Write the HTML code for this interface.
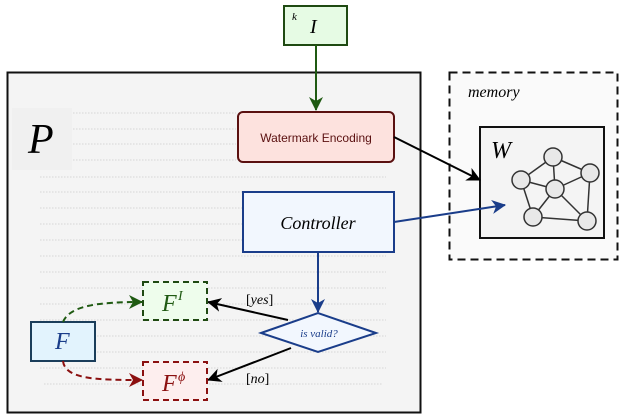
<!DOCTYPE html>
<html><head><meta charset="utf-8"><style>
html,body{margin:0;padding:0;background:#fff;}
svg{display:block;}
text{font-family:"Liberation Serif",serif;font-style:italic;}
</style></head><body>
<svg width="624" height="420" viewBox="0 0 624 420" xmlns="http://www.w3.org/2000/svg">
<defs>
<marker id="ak" markerWidth="14" markerHeight="14" refX="13" refY="7" orient="auto" markerUnits="userSpaceOnUse"><path d="M0,0 L14,7 L0,14 L4,7 z" fill="#000"/></marker>
<marker id="ab" markerWidth="14" markerHeight="14" refX="13" refY="7" orient="auto" markerUnits="userSpaceOnUse"><path d="M0,0 L14,7 L0,14 L4,7 z" fill="#1a3d8a"/></marker>
<marker id="ag" markerWidth="14" markerHeight="14" refX="13" refY="7" orient="auto" markerUnits="userSpaceOnUse"><path d="M0,0 L14,7 L0,14 L4,7 z" fill="#1f5a12"/></marker>
<marker id="ar" markerWidth="14" markerHeight="14" refX="13" refY="7" orient="auto" markerUnits="userSpaceOnUse"><path d="M0,0 L14,7 L0,14 L4,7 z" fill="#8b1010"/></marker>
</defs>
<rect x="7.5" y="72.5" width="413" height="340" fill="#f4f4f4" stroke="#111" stroke-width="2"/>
<rect x="12" y="108" width="60" height="62" fill="#f0f0f0"/>
<g stroke="#d6d6d6" stroke-width="1" stroke-dasharray="1.5,1.5">
<line x1="73" y1="113" x2="236" y2="113"/><line x1="73" y1="129" x2="236" y2="129"/>
<line x1="73" y1="144" x2="236" y2="144"/><line x1="73" y1="160" x2="236" y2="160"/>
<line x1="40" y1="177" x2="386" y2="177"/>
<line x1="40" y1="192" x2="243" y2="192"/><line x1="40" y1="208" x2="243" y2="208"/>
<line x1="40" y1="224" x2="243" y2="224"/><line x1="40" y1="240" x2="243" y2="240"/>
<line x1="40" y1="256" x2="386" y2="256"/><line x1="40" y1="272" x2="386" y2="272"/>
<line x1="40" y1="288" x2="386" y2="288"/><line x1="40" y1="304" x2="386" y2="304"/>
<line x1="40" y1="320" x2="386" y2="320"/><line x1="40" y1="336" x2="386" y2="336"/>
<line x1="40" y1="352" x2="386" y2="352"/><line x1="40" y1="368" x2="386" y2="368"/>
<line x1="44" y1="384" x2="382" y2="384"/>
</g>
<text x="28" y="153" font-size="42">P</text>
<rect x="449.5" y="72.5" width="168" height="187" fill="#fafafa" stroke="#111" stroke-width="2" stroke-dasharray="8,5"/>
<text x="468" y="97" font-size="16">memory</text>
<rect x="480" y="127" width="124" height="111" fill="#f4f4f4" stroke="#111" stroke-width="2"/>
<text x="491" y="158" font-size="24">W</text>
<g stroke="#333" stroke-width="1.5">
<line x1="553" y1="157" x2="521" y2="180"/><line x1="553" y1="157" x2="590" y2="173"/><line x1="553" y1="157" x2="555" y2="189"/>
<line x1="521" y1="180" x2="555" y2="189"/><line x1="521" y1="180" x2="533" y2="217"/>
<line x1="555" y1="189" x2="590" y2="173"/><line x1="555" y1="189" x2="533" y2="217"/><line x1="555" y1="189" x2="587" y2="221"/>
<line x1="590" y1="173" x2="587" y2="221"/><line x1="533" y1="217" x2="587" y2="221"/>
</g>
<g fill="#e8e8e8" stroke="#333" stroke-width="1.5">
<circle cx="553" cy="157" r="9"/><circle cx="521" cy="180" r="9"/><circle cx="555" cy="189" r="9"/>
<circle cx="590" cy="173" r="9"/><circle cx="533" cy="217" r="9"/><circle cx="587" cy="221" r="9"/>
</g>
<rect x="284" y="6" width="63" height="39" fill="#e6fbe4" stroke="#1f4a12" stroke-width="2"/>
<text x="292" y="20" font-size="11">k</text>
<text x="310" y="33" font-size="20">I</text>
<line x1="316" y1="45" x2="316" y2="110" stroke="#1f5a12" stroke-width="2" marker-end="url(#ag)"/>
<rect x="238" y="112" width="156" height="50" rx="5" fill="#fde2de" stroke="#5a1010" stroke-width="2"/>
<text x="316" y="142" font-size="12" text-anchor="middle" style="font-family:'Liberation Sans',sans-serif;font-style:normal" fill="#5a1010">Watermark Encoding</text>
<line x1="394" y1="137" x2="480" y2="180" stroke="#000" stroke-width="2" marker-end="url(#ak)"/>
<rect x="243" y="192" width="151" height="60" fill="#f2f7fe" stroke="#1a3d8a" stroke-width="2"/>
<text x="318" y="229" font-size="18" text-anchor="middle">Controller</text>
<line x1="394" y1="222" x2="505" y2="205" stroke="#1a3d8a" stroke-width="2" marker-end="url(#ab)"/>
<line x1="318" y1="252" x2="318" y2="312" stroke="#1a3d8a" stroke-width="2" marker-end="url(#ab)"/>
<polygon points="261,333 318,313 376,333 318,352" fill="#f2f7fe" stroke="#1a3d8a" stroke-width="2"/>
<text x="319" y="337" font-size="11" text-anchor="middle" fill="#1a3d8a">is valid?</text>
<line x1="288" y1="320" x2="208" y2="302" stroke="#000" stroke-width="2" marker-end="url(#ak)"/>
<text x="246" y="304" font-size="14" style="font-style:normal">[<tspan style="font-style:italic">yes</tspan>]</text>
<line x1="291" y1="348" x2="208" y2="380" stroke="#000" stroke-width="2" marker-end="url(#ak)"/>
<text x="246" y="383" font-size="14" style="font-style:normal">[<tspan style="font-style:italic">no</tspan>]</text>
<rect x="143" y="282" width="64" height="38" fill="#eefdec" stroke="#1f4a12" stroke-width="2" stroke-dasharray="6,4"/>
<text x="162" y="311" font-size="24" fill="#1f5a12">F</text><text x="178" y="300" font-size="14" fill="#1f5a12">I</text>
<rect x="143" y="362" width="64" height="38" fill="#fdeeee" stroke="#8b1010" stroke-width="2" stroke-dasharray="6,4"/>
<text x="162" y="391" font-size="24" fill="#8b1010">F</text><text x="178" y="381" font-size="14" fill="#8b1010">ϕ</text>
<rect x="31" y="322" width="64" height="39" fill="#e2f3fd" stroke="#1a3d5a" stroke-width="2"/>
<text x="55" y="349" font-size="24" fill="#1a3d8a">F</text>
<path d="M63,322 C70,305 100,302 142,302" fill="none" stroke="#1f5a12" stroke-width="2" stroke-dasharray="6,4" marker-end="url(#ag)"/>
<path d="M63,361 C65,380 100,380 142,380" fill="none" stroke="#8b1010" stroke-width="2" stroke-dasharray="6,4" marker-end="url(#ar)"/>
</svg>
</body></html>
